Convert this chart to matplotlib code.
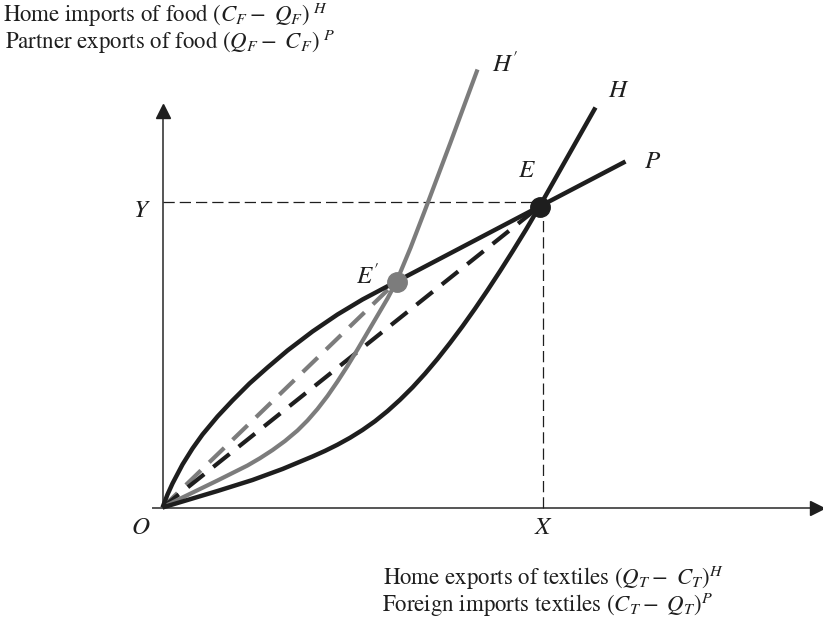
import matplotlib
matplotlib.use("Agg")
import matplotlib.pyplot as plt

plt.rcParams['font.family'] = ['STIXGeneral', 'DejaVu Serif']
plt.rcParams['mathtext.fontset'] = 'stix'

# offer curves (units measured from the origin O)
p_x = [0, 5, 10, 20, 30, 40, 55, 70, 87, 105, 125, 150, 175, 200, 234, 377, 463]
p_y = [0, 13, 24, 43, 59, 73, 91, 107, 124, 140, 157, 176, 193, 208, 226, 301, 346]

h_x = [0, 20, 55, 90, 120, 150, 162.5, 175, 187.5, 200, 212.5, 225, 237.5, 250, 262.5,
       275, 287.5, 300, 312.5, 325, 337.5, 350, 363.5, 377, 433]
h_y = [0, 6, 16.5, 27.5, 38.5, 51, 56.6, 62.8, 69.7, 77.5, 86.3, 96.4, 107.7, 120.1, 133.8,
       148.6, 164.5, 181.2, 198.8, 217.2, 236.3, 256, 277.9, 301, 400]

h2_x = [0, 20, 55, 85, 97.5, 110, 122.5, 135, 145, 155, 165, 175, 185, 195, 205, 215, 225,
        234, 248, 262, 288, 315]
h2_y = [0, 10, 27, 42, 49.3, 57.4, 66.5, 77, 87, 98.5, 111.5, 126, 141.5, 158, 175, 192, 209,
        226, 259.6, 296, 365, 438]

# equilibria
e_pt = (377, 301)
e2_pt = (234, 226)
x_val = 380
y_val = 306

BLACK = '#1e1e1e'
GRAY = '#7c7c7c'

fig = plt.figure(figsize=(8.23, 6.3), dpi=100)
ax = fig.add_axes([0, 0, 1, 1])
ax.set_xlim(-162.5, 660.5)
ax.set_ylim(-122.5, 507.5)
ax.axis('off')

# axes with arrow heads
ax.plot([-10, 652], [0, 0], color='#555555', lw=1.4, zorder=1)
ax.plot([0, 0], [0, 395], color='#555555', lw=1.4, zorder=1)
ax.plot([655], [0], marker='>', ms=10, color=BLACK, mec=BLACK, zorder=2)
ax.plot([0], [397], marker='^', ms=10, color=BLACK, mec=BLACK, zorder=2)

# guide lines to X and Y
ax.plot([0, x_val], [y_val, y_val], color=BLACK, lw=0.9, dashes=(9, 4), zorder=2)
ax.plot([x_val, x_val], [0, y_val], color=BLACK, lw=0.9, dashes=(9, 4), zorder=2)

# rays from the origin
ax.plot([0, e2_pt[0]], [0, e2_pt[1]], color=GRAY, lw=3, dashes=(5, 2.8), zorder=3)
ax.plot([0, e_pt[0]], [0, e_pt[1]], color=BLACK, lw=3, dashes=(5, 2.8), zorder=3)

# offer curves
ax.plot(h2_x, h2_y, color=GRAY, lw=3, solid_capstyle='butt', solid_joinstyle='round', zorder=4)
ax.plot(h_x, h_y, color=BLACK, lw=3.2, solid_capstyle='butt', solid_joinstyle='round', zorder=5)
ax.plot(p_x, p_y, color=BLACK, lw=3.2, solid_capstyle='butt', solid_joinstyle='round', zorder=5)

ax.plot([e_pt[0]], [e_pt[1]], 'o', ms=14, color=BLACK, zorder=6)
ax.plot([e2_pt[0]], [e2_pt[1]], 'o', ms=14, color=GRAY, zorder=6)

# labels
lab = dict(fontsize=18, ha='center', va='center', color=BLACK)
ax.text(343, 442, "$H'$", **lab)
ax.text(456, 417, '$H$', **lab)
ax.text(490, 346, '$P$', **lab)
ax.text(364, 337, '$E$', **lab)
ax.text(205, 230, "$E'$", **lab)
ax.text(-21, 297, '$Y$', **lab)
ax.text(381, -20, '$X$', **lab)
ax.text(-22, -20, '$O$', **lab)

txt = dict(fontsize=16.5, ha='left', va='baseline', color=BLACK)
ax.text(-159.5, 485.5, r'Home imports of food $(C_F -\ Q_F)\;{}^{H}$', **txt)
ax.text(-157.5, 459, r'Partner exports of food $(Q_F -\ C_F)\;{}^{P}$', **txt)
ax.text(220.5, -77.5, r'Home exports of textiles $(Q_T -\ C_T)^{H}$', **txt)
ax.text(219.5, -104.5, r'Foreign imports textiles $(C_T -\ Q_T)^{P}$', **txt)

fig.savefig('out.png', dpi=100, facecolor='white')
